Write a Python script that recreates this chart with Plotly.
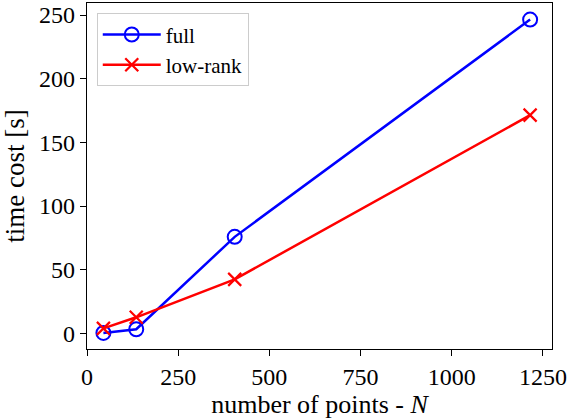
import plotly.graph_objects as go

N = [45, 135, 405, 1215]
full = [0.3, 3.2, 75.8, 246.5]
low_rank = [3.9, 12.6, 42.4, 171.4]
x_ticks = [0, 250, 500, 750, 1000, 1250]
y_ticks = [0, 50, 100, 150, 200, 250]

FONT = "Liberation Serif"

fig = go.Figure()
fig.add_trace(go.Scatter(
    x=N, y=full, name="full", mode="lines+markers",
    line=dict(color="#0000ff", width=2.5),
    marker=dict(symbol="circle-open", size=14, color="#0000ff", line=dict(width=2)),
))
fig.add_trace(go.Scatter(
    x=N, y=low_rank, name="low-rank", mode="lines+markers",
    line=dict(color="#ff0000", width=2.5),
    marker=dict(symbol="x-thin-open", size=13, color="#ff0000", line=dict(width=2.2, color="#ff0000")),
))

axis_common = dict(
    showgrid=False, zeroline=False, showline=True, linecolor="black", linewidth=1.3,
    mirror=True, ticks="outside", ticklen=6, tickwidth=1.3, tickcolor="black",
    tickfont=dict(family=FONT, size=24, color="black"),
)

fig.update_layout(
    width=571, height=420,
    margin=dict(l=87, r=19, t=3, b=71),
    paper_bgcolor="white", plot_bgcolor="white",
    font=dict(family=FONT, size=24, color="black"),
    xaxis=dict(range=[0, 1275], tickvals=x_ticks,
               title=dict(text="number of points - <i>N</i>", font=dict(family=FONT, size=26), standoff=3),
               **axis_common),
    yaxis=dict(range=[-12.3, 259.5], tickvals=y_ticks,
               title=dict(text="time cost [s]", font=dict(family=FONT, size=27), standoff=7),
               **axis_common),
    legend=dict(x=0.021, y=0.97, xanchor="left", yanchor="top",
                bgcolor="rgba(255,255,255,0.8)", bordercolor="#cccccc", borderwidth=1,
                font=dict(family=FONT, size=21), itemwidth=58, tracegroupgap=0),
    showlegend=True,
)

fig.write_html("out.html")
